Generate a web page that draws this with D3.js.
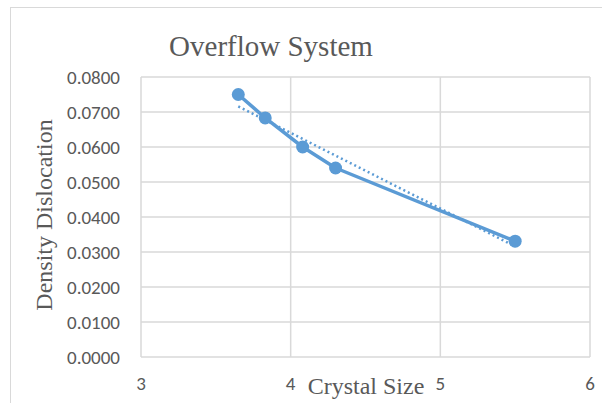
<!DOCTYPE html>
<html><head><meta charset="utf-8">
<script src="https://cdn.jsdelivr.net/npm/d3@7"></script>
<style>html,body{margin:0;padding:0;background:#fff;}</style>
</head><body>
<svg id="c" width="602" height="403"></svg>
<script>
const crystalSize = [3.65, 3.83, 4.08, 4.30, 5.50];
const density = [0.0750, 0.0683, 0.0600, 0.0540, 0.0331];
const trendX = [3.65, 5.50];
const trendY = [0.0716, 0.0316];
const xTicks = [3, 4, 5, 6];
const yTicks = [0, 0.01, 0.02, 0.03, 0.04, 0.05, 0.06, 0.07, 0.08];
const title = "Overflow System";
const xTitle = "Crystal Size";
const yTitle = "Density Dislocation";

const svg = d3.select("#c");
const L = 141, R = 590, T = 77, B = 357;
const x = d3.scaleLinear().domain([3, 6]).range([L, R]);
const y = d3.scaleLinear().domain([0, 0.08]).range([B, T]);

// outer chart border
svg.append("rect").attr("x", 10.5).attr("y", 7.5).attr("width", 620).attr("height", 420)
  .attr("fill", "#fff").attr("stroke", "#d9d9d9").attr("stroke-width", 1);

const grid = "#d9d9d9";
svg.append("g").selectAll("line").data(yTicks).join("line")
  .attr("x1", L).attr("x2", R).attr("y1", d => y(d)).attr("y2", d => y(d))
  .attr("stroke", grid).attr("stroke-width", 1.5);
svg.append("g").selectAll("line").data(xTicks).join("line")
  .attr("y1", T).attr("y2", B).attr("x1", d => x(d)).attr("x2", d => x(d))
  .attr("stroke", grid).attr("stroke-width", 1.5);

const sans = "Carlito, 'Liberation Sans', Arial, sans-serif";
const serif = "'Liberation Serif', 'Times New Roman', serif";
svg.append("g").selectAll("text").data(yTicks).join("text")
  .attr("x", 120).attr("y", d => y(d)).attr("dy", "0.35em")
  .attr("text-anchor", "end").attr("font-family", sans).attr("font-size", 19)
  .attr("fill", "#595959").text(d => d.toFixed(4));
svg.append("g").selectAll("text").data(xTicks).join("text")
  .attr("x", d => x(d)).attr("y", 383).attr("dy", "0.35em")
  .attr("text-anchor", "middle").attr("font-family", sans).attr("font-size", 19)
  .attr("fill", "#595959").text(d => d);

svg.append("text").attr("x", 271).attr("y", 56).attr("text-anchor", "middle")
  .attr("font-family", serif).attr("font-size", 29).attr("fill", "#595959").text(title);
svg.append("text").attr("x", 366).attr("y", 394).attr("text-anchor", "middle")
  .attr("font-family", serif).attr("font-size", 24).attr("fill", "#595959").text(xTitle);
svg.append("text").attr("transform", `translate(52,215) rotate(-90)`)
  .attr("text-anchor", "middle").attr("font-family", serif).attr("font-size", 24)
  .attr("fill", "#595959").text(yTitle);

const col = "#5b9bd5";
const pts = crystalSize.map((v, i) => [v, density[i]]);
const line = d3.line().x(d => x(d[0])).y(d => y(d[1]));
svg.append("path").datum(trendX.map((v, i) => [v, trendY[i]])).attr("d", line)
  .attr("fill", "none").attr("stroke", col).attr("stroke-width", 2.5)
  .attr("stroke-dasharray", "2,3");
svg.append("path").datum(pts).attr("d", line)
  .attr("fill", "none").attr("stroke", col).attr("stroke-width", 3.5)
  .attr("stroke-linejoin", "round");
svg.append("g").selectAll("circle").data(pts).join("circle")
  .attr("cx", d => x(d[0])).attr("cy", d => y(d[1])).attr("r", 6.5).attr("fill", col);
</script>
</body></html>
